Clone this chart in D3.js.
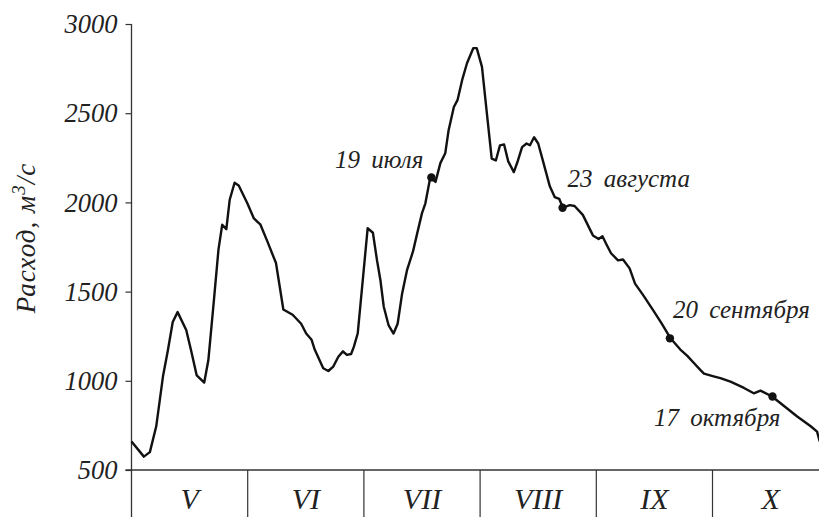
<!DOCTYPE html>
<html lang="ru">
	<head>
		<meta charset="utf-8">
		<title>Расход воды, май–октябрь</title>
		<script src="https://cdn.jsdelivr.net/npm/d3@7"></script>
		<style type="text/css">
			body { margin: 0; background: #fff; }
			text { font-family: "Liberation Serif", "Times New Roman", "DejaVu Serif", serif; font-style: italic; fill: #222; }
		</style>
	</head>
	<body>
		<script type="text/javascript">

			//Months (Roman numerals) and their lengths in days
			let months = ["V", "VI", "VII", "VIII", "IX", "X"];
			let monthDays = [31, 30, 31, 31, 30, 31];

			//Y ticks
			let yTicks = [500, 1000, 1500, 2000, 2500, 3000];

			//Day of season (0 = 1 May) and discharge, m3/s
			let days = [0, 3.3, 4.9, 6.6, 8.4, 9.7, 11.0, 12.3, 14.6, 15.9, 17.4, 19.4, 20.5, 22.0, 23.2, 24.2, 25.3, 26.2, 27.5, 28.6,
				30.9, 32.6, 34.3, 36.1, 38.3, 40.2, 42.6, 44.8, 46.1, 47.5, 48.3, 50.5, 51.8, 53.1, 54.4, 55.6, 56.6, 57.7, 58.4, 59.4,
				60.8, 62.0, 63.4, 64.5, 65.4, 66.3, 67.6, 68.9, 70.0, 71.2, 72.5, 74.1, 75.2, 76.5, 77.4, 78.7, 80.1, 81.4, 82.7, 83.6,
				85.0, 86.0, 87.2, 88.5, 90.2, 91.1, 92.5, 93.8, 95.1, 96.2, 97.3, 98.4, 99.5, 101.0, 102.1, 103.2, 104.4, 105.3, 106.4, 107.5,
				108.8, 110.6, 111.9, 113.1, 114.1, 115.9, 117.2, 119.4, 122.1, 123.6, 124.6, 125.5, 126.8, 128.6, 129.9, 131.6, 133.0, 135.1, 137.7, 139.9,
				142.1, 144.7, 146.5, 148.2, 149.9, 150.8, 153.3, 155.1, 157.8, 161.4, 164.0, 165.8, 168.9, 172.0, 175.6, 179.2, 180.9, 181.6];
			let flow = [660, 575, 600, 745, 1025, 1170, 1330, 1385, 1285, 1170, 1030, 990, 1115, 1455, 1735, 1875, 1850, 2015, 2110, 2095,
				1995, 1910, 1875, 1780, 1660, 1400, 1370, 1320, 1265, 1230, 1175, 1070, 1055, 1080, 1135, 1165, 1145, 1150, 1190, 1265,
				1585, 1855, 1830, 1675, 1565, 1415, 1310, 1265, 1320, 1490, 1620, 1725, 1825, 1940, 1995, 2140, 2115, 2220, 2275, 2405,
				2535, 2575, 2685, 2780, 2865, 2865, 2760, 2500, 2245, 2235, 2320, 2325, 2230, 2170, 2235, 2310, 2330, 2320, 2365, 2330,
				2230, 2090, 2030, 2020, 1970, 1985, 1980, 1930, 1815, 1795, 1810, 1770, 1715, 1675, 1680, 1630, 1545, 1480, 1395, 1320,
				1240, 1175, 1140, 1100, 1060, 1040, 1025, 1015, 995, 960, 930, 945, 912, 860, 800, 745, 715, 660];

			//Marked dates
			let markDays = [79, 114, 142, 169];
			let markFlow = [2140, 1970, 1238, 912];
			let markLabels = ["19 июля", "23 августа", "20 сентября", "17 октября"];

			//Width and height
			let w = 819;
			let h = 517;
			let padLeft = 131.5, padTop = 24, axisY = 470, monthW = 116.2;
			let serif = "'Liberation Serif', 'Times New Roman', serif";

			//Month boundaries in days -> piecewise linear x scale
			let bounds = [0];
			monthDays.forEach(d => bounds.push(bounds[bounds.length - 1] + d));
			let x = d3.scaleLinear()
				.domain(bounds)
				.range(bounds.map((d, i) => padLeft + i * monthW));

			let y = d3.scaleLinear()
				.domain([500, 3000])
				.range([axisY, padTop]);

			let band = d3.scaleBand()
				.domain(months)
				.range([padLeft, padLeft + monthW * months.length]);

			let svg = d3.select("body")
				.append("svg")
				  .attr("width", w)
				  .attr("height", h)
				  .attr("font-family", serif);

			//Y axis
			let yAxis = svg.append("g")
				.attr("transform", `translate(${padLeft},0)`)
				.call(d3.axisLeft(y).tickValues(yTicks).tickSize(6).tickPadding(8).tickFormat(d3.format("d")))
				.attr("font-family", serif);
			yAxis.select(".domain").remove();
			yAxis.selectAll(".tick line").attr("stroke", "#333").attr("stroke-width", 1.2);
			yAxis.selectAll(".tick text")
				.attr("font-size", 26.5)
				.attr("dy", "0.33em")
				.attr("fill", "#222");

			//Axis lines
			svg.append("line")
				.attr("x1", padLeft).attr("x2", padLeft)
				.attr("y1", y(3000)).attr("y2", h)
				.attr("stroke", "#333").attr("stroke-width", 1.3);
			svg.append("line")
				.attr("x1", padLeft - 6).attr("x2", w)
				.attr("y1", axisY).attr("y2", axisY)
				.attr("stroke", "#333").attr("stroke-width", 1.3);

			//Month cells
			svg.selectAll("line.month")
				.data(months.slice(1))
				.enter()
			  .append("line")
				.attr("class", "month")
				.attr("x1", d => band(d)).attr("x2", d => band(d))
				.attr("y1", axisY).attr("y2", h)
				.attr("stroke", "#333").attr("stroke-width", 1.2);

			svg.selectAll("text.month")
				.data(months)
				.enter()
			  .append("text")
				.attr("class", "month")
				.attr("x", d => band(d) + band.bandwidth() / 2)
				.attr("y", 509)
				.attr("text-anchor", "middle")
				.attr("font-size", 30)
				.text(d => d);

			//Y axis title
			let title = svg.append("text")
				.attr("transform", "translate(35,238) rotate(-90)")
				.attr("text-anchor", "middle")
				.attr("font-size", 27)
				.attr("letter-spacing", 1);
			title.append("tspan").text("Расход, м");
			title.append("tspan").attr("dy", -10).attr("font-size", 19).text("3");
			title.append("tspan").attr("dy", 10).text("/с");

			//Discharge line
			let line = d3.line()
				.x((d, i) => x(days[i]))
				.y(d => y(d));

			svg.append("path")
				.datum(flow)
				.attr("d", line)
				.attr("fill", "none")
				.attr("stroke", "#111")
				.attr("stroke-width", 2.4)
				.attr("stroke-linejoin", "round");

			//Marked dates
			let labelPos = [
				{ dx: -8, dy: -9, anchor: "end" },
				{ dx: 5, dy: -21, anchor: "start" },
				{ dx: 3, dy: -20, anchor: "start" },
				{ dx: 8, dy: 30, anchor: "end" }
			];

			svg.selectAll("circle")
				.data(markDays)
				.enter()
			  .append("circle")
				.attr("cx", d => x(d))
				.attr("cy", (d, i) => y(markFlow[i]))
				.attr("r", 4.2)
				.attr("fill", "#111");

			svg.selectAll("text.mark")
				.data(markLabels)
				.enter()
			  .append("text")
				.attr("class", "mark")
				.attr("x", (d, i) => x(markDays[i]) + labelPos[i].dx)
				.attr("y", (d, i) => y(markFlow[i]) + labelPos[i].dy)
				.attr("text-anchor", (d, i) => labelPos[i].anchor)
				.attr("font-size", 25)
				.attr("word-spacing", 5)
				.text(d => d);

		</script>
	</body>
</html>
